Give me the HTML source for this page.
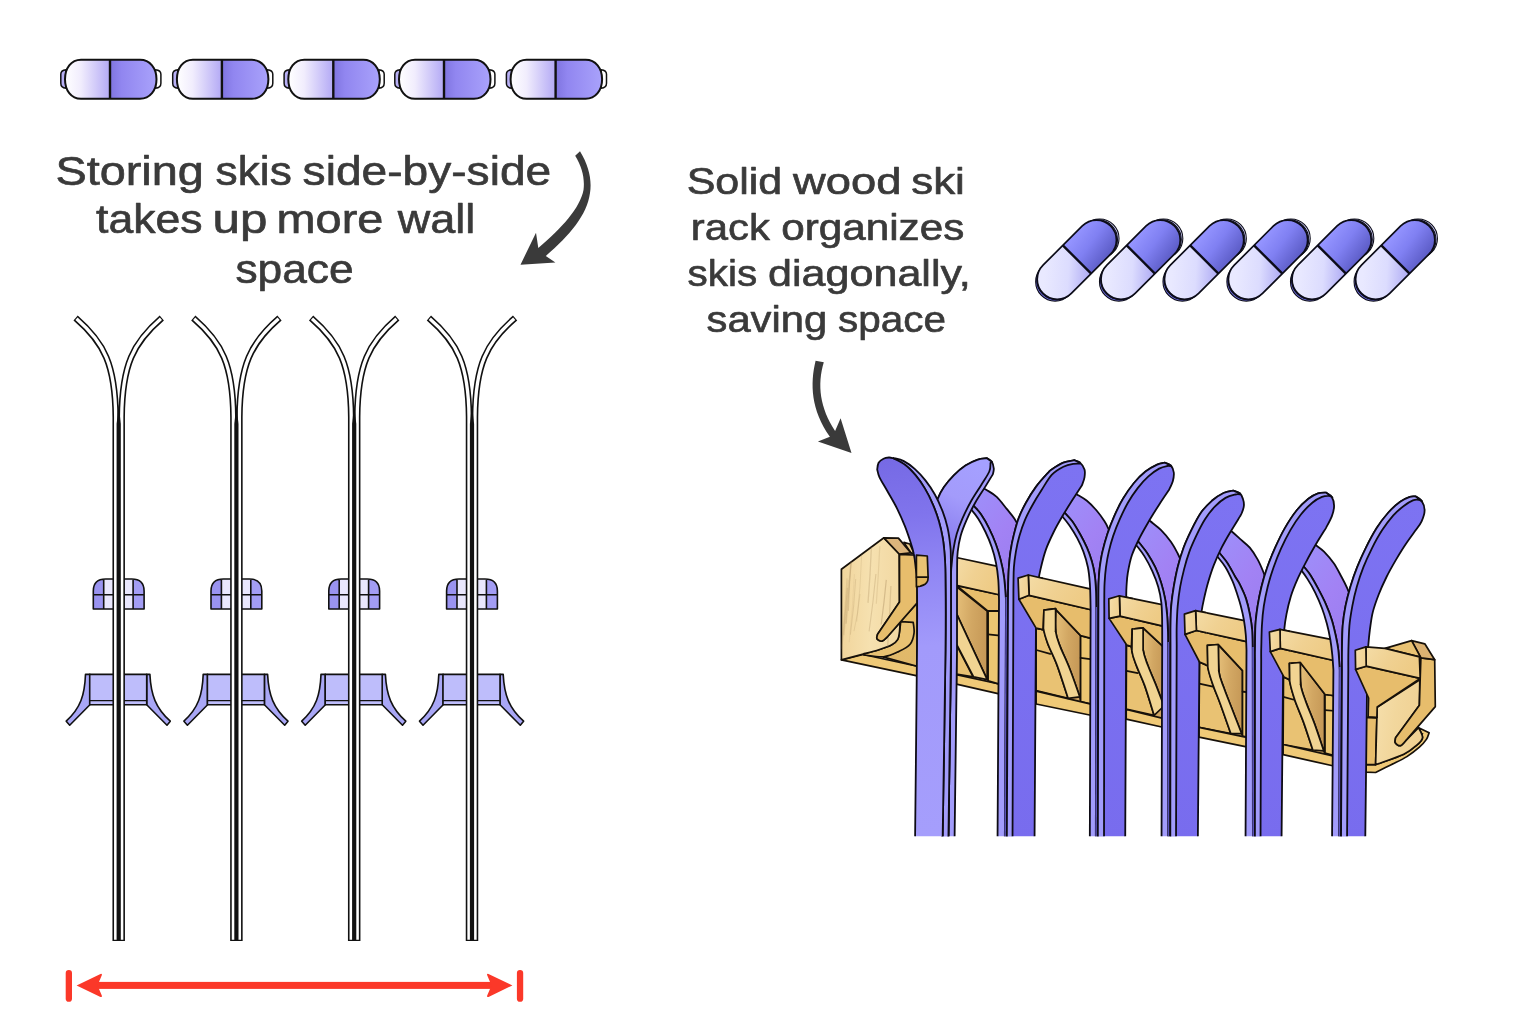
<!DOCTYPE html>
<html lang="en">
<head>
<meta charset="utf-8">
<title>Ski rack storage comparison</title>
<style>
html,body{margin:0;padding:0;background:#fff;}
body{width:1536px;height:1024px;overflow:hidden;position:relative;font-family:"Liberation Sans",sans-serif;}
svg{position:absolute;left:0;top:0;display:block;}
text{font-family:"Liberation Sans",sans-serif;fill:#3a3a3a;stroke:#3a3a3a;stroke-width:0.65px;stroke-linejoin:round;}
#txtL,#txtR{filter:url(#gray);}
</style>
</head>
<body>
<svg width="1536" height="1024" viewBox="0 0 1536 1024">
<defs>
  <filter id="gray" x="-5%" y="-20%" width="110%" height="140%" color-interpolation-filters="sRGB"><feColorMatrix type="saturate" values="1"/></filter>
  <linearGradient id="capL" x1="0" x2="1" y1="0" y2="0">
    <stop offset="0" stop-color="#ffffff"/>
    <stop offset="0.35" stop-color="#f1edfd"/>
    <stop offset="1" stop-color="#b3a9f5"/>
  </linearGradient>
  <linearGradient id="capR" x1="0" x2="1" y1="0" y2="0">
    <stop offset="0" stop-color="#7f74e0"/>
    <stop offset="0.25" stop-color="#9186f0"/>
    <stop offset="1" stop-color="#a9a2fb"/>
  </linearGradient>
  <g id="capsule">
    <!-- end tabs -->
    <path d="M6 10.5 Q0.8 11 0.8 15 V24 Q0.8 28.5 6 29 Z" fill="#b8b0f5" stroke="#111" stroke-width="1.5" stroke-linejoin="round"/>
    <path d="M95.5 10.5 Q100.9 11 100.9 15 V24 Q100.9 28.5 95.5 29 Z" fill="#fff" stroke="#111" stroke-width="1.5" stroke-linejoin="round"/>
    <!-- body halves -->
    <path d="M50 0.5 H21 C11 0.5 5 9 5 20 C5 31 11 39.5 21 39.5 H50 Z" fill="url(#capL)"/>
    <path d="M50 0.5 H80 C90 0.5 96.5 9 96.5 20 C96.5 31 90 39.5 80 39.5 H50 Z" fill="url(#capR)"/>
    <path d="M21 0.5 H80 C90 0.5 96.5 9 96.5 20 C96.5 31 90 39.5 80 39.5 H21 C11 39.5 5 31 5 20 C5 9 11 0.5 21 0.5 Z" fill="none" stroke="#111" stroke-width="2"/>
    <path d="M50 0.5 V39.5" stroke="#111" stroke-width="2.4"/>
  </g>
  <g id="skipair">
    <path d="M-3 941 V417 C-3.4 364.9 -14.5 342.7 -43.1 318" fill="none" stroke="#111" stroke-width="6.5"/>
    <path d="M-3 939.8 V417 C-3.4 364.9 -14.5 342.7 -42.2 318.8" fill="none" stroke="#fff" stroke-width="3.3"/>
    <path d="M3 941 V417 C3.4 364.9 14.5 342.7 43.1 318" fill="none" stroke="#111" stroke-width="6.5"/>
    <path d="M3 939.8 V417 C3.4 364.9 14.5 342.7 42.2 318.8" fill="none" stroke="#fff" stroke-width="3.3"/>
    <path d="M-2.1 941 V424 L0 404 L2.1 424 V941 Z" fill="#111"/>
  </g>
  <g id="bindings">
    <!-- toe piece -->
    <path d="M-25.4 609 V591 Q-25.4 579 -13 579 H13 Q25.4 579 25.4 591 V609 Z" fill="#e9e7fd"/>
    <path d="M-25.4 609 V591 Q-25.4 579 -13 579 H-15 V609 Z" fill="#9a93f0"/>
    <path d="M25.4 609 V591 Q25.4 579 13 579 H14.4 V609 Z" fill="#a39df4"/>
    <path d="M-25.4 609 V591 Q-25.4 579 -13 579 H13 Q25.4 579 25.4 591 V609 Z M-25.4 594.7 H25.4 M-15 579 V609 M14.4 579 V609" fill="none" stroke="#111" stroke-width="1.6" stroke-linejoin="round"/>
    <!-- heel piece wings -->
    <path d="M-33.2 674.4 H-28.8 V704.8 L-49 725.2 L-52.5 721.2 C-38 708 -34 695 -33.2 674.4 Z" fill="#a9a7f6" stroke="#111" stroke-width="1.6" stroke-linejoin="round"/>
    <path d="M31.2 674.4 H28 V704.8 L48.3 725.2 L51.6 721.2 C37 708 32.2 695 31.2 674.4 Z" fill="#a9a7f6" stroke="#111" stroke-width="1.6" stroke-linejoin="round"/>
    <path d="M-29 674.4 H28 V704.8 H-29 Z" fill="#bebdfb" stroke="#111" stroke-width="1.6" stroke-linejoin="round"/>
    <path d="M-29 700.6 H28" stroke="#111" stroke-width="1.4"/>
  </g>
</defs>

<!-- top-left capsules (side by side) -->
<use href="#capsule" x="60" y="59.3"/>
<use href="#capsule" x="171.9" y="59.3"/>
<use href="#capsule" x="283.3" y="59.3"/>
<use href="#capsule" x="394" y="59.3"/>
<use href="#capsule" x="505.6" y="59.3"/>

<!-- left text -->
<g font-size="40" id="txtL">
  <text y="185.2"><tspan x="55.4" textLength="148.4" lengthAdjust="spacingAndGlyphs">Storing</tspan> <tspan x="215.6" textLength="76.2" lengthAdjust="spacingAndGlyphs">skis</tspan> <tspan x="302.6" textLength="248.6" lengthAdjust="spacingAndGlyphs">side-by-side</tspan></text>
  <text y="233.2"><tspan x="96.0" textLength="106.5" lengthAdjust="spacingAndGlyphs">takes</tspan> <tspan x="212.5" textLength="54.8" lengthAdjust="spacingAndGlyphs">up</tspan> <tspan x="276.6" textLength="106.7" lengthAdjust="spacingAndGlyphs">more</tspan> <tspan x="397.7" textLength="77.5" lengthAdjust="spacingAndGlyphs">wall</tspan></text>
  <text y="282.7"><tspan x="235.4" textLength="118.2" lengthAdjust="spacingAndGlyphs">space</tspan></text>
</g>
<g font-size="37" id="txtR">
  <text y="194.2"><tspan x="686.7" textLength="95.6" lengthAdjust="spacingAndGlyphs">Solid</tspan> <tspan x="793.1" textLength="108.3" lengthAdjust="spacingAndGlyphs">wood</tspan> <tspan x="911.2" textLength="53.7" lengthAdjust="spacingAndGlyphs">ski</tspan></text>
  <text y="240.0"><tspan x="690.8" textLength="79.1" lengthAdjust="spacingAndGlyphs">rack</tspan> <tspan x="781.3" textLength="183.0" lengthAdjust="spacingAndGlyphs">organizes</tspan></text>
  <text y="285.6"><tspan x="687.6" textLength="69.7" lengthAdjust="spacingAndGlyphs">skis</tspan> <tspan x="768.1" textLength="202.7" lengthAdjust="spacingAndGlyphs">diagonally,</tspan></text>
  <text y="332.0"><tspan x="706.5" textLength="120.7" lengthAdjust="spacingAndGlyphs">saving</tspan> <tspan x="838.0" textLength="107.9" lengthAdjust="spacingAndGlyphs">space</tspan></text>
</g>

<!-- left arrow -->
<g id="arrowL">
  <path d="M580 151.2 C589 166 592 180 590 193 C587 215 570 235 545.8 256 L555.4 262.6 L520.5 264.7 L536 232.7 L538.3 248 C562 228 580 208 583.5 190 C585 178 582 167 575.2 155.7 Z" fill="#3a3a3a"/>
</g>
<!-- right arrow -->
<g id="arrowR">
  <path d="M815.6 360.8 C810 384 811 410 829.9 436.8 L817.9 441.4 L851.5 452.9 L840.6 418.2 L835.1 430.9 C820 408 817 385 823.8 362.3 Z" fill="#3a3a3a"/>
</g>

<!-- left skis -->
<g id="skisL">
  <g transform="translate(118.7 0)"><use href="#bindings"/><use href="#skipair"/></g>
  <g transform="translate(236.4 0)"><use href="#bindings"/><use href="#skipair"/></g>
  <g transform="translate(354.2 0)"><use href="#bindings"/><use href="#skipair"/></g>
  <g transform="translate(472 0)"><use href="#bindings"/><use href="#skipair"/></g>
</g>

<!-- red dimension arrow -->
<g id="dim" fill="#fb3829" stroke="none">
  <rect x="65.7" y="970" width="6.3" height="31.8" rx="3.1"/>
  <rect x="516.9" y="970" width="6.3" height="31.8" rx="3.1"/>
  <rect x="92" y="981.9" width="405" height="7"/>
  <path d="M76.6 985.4 L100.5 973.9 Q102.5 973.3 101.8 975.3 L97.5 985.4 L101.8 995.5 Q102.5 997.5 100.5 996.9 Z"/>
  <path d="M512.4 985.4 L488.5 973.9 Q486.5 973.3 487.2 975.3 L491.5 985.4 L487.2 995.5 Q486.5 997.5 488.5 996.9 Z"/>
</g>

<defs><linearGradient id="gBack" x1="0" y1="0" x2="0.6" y2="1"><stop offset="0" stop-color="#9c92fb"/><stop offset="0.6" stop-color="#a282f4"/><stop offset="1" stop-color="#9a7ef0"/></linearGradient>
<linearGradient id="gFront" x1="0" y1="0" x2="0" y2="1"><stop offset="0" stop-color="#7d73f2"/><stop offset="1" stop-color="#786cee"/></linearGradient>
<linearGradient id="gP1L" gradientUnits="userSpaceOnUse" x1="890" y1="460" x2="930" y2="836"><stop offset="0" stop-color="#766ae5"/><stop offset="0.15" stop-color="#8074ec"/><stop offset="0.3" stop-color="#9086f4"/><stop offset="0.5" stop-color="#a29afb"/><stop offset="1" stop-color="#a59efc"/></linearGradient>
<linearGradient id="gP1R" gradientUnits="userSpaceOnUse" x1="985" y1="465" x2="950" y2="540"><stop offset="0" stop-color="#a5a0ff"/><stop offset="0.5" stop-color="#a39bfb"/><stop offset="1" stop-color="#8a7ff0"/></linearGradient>
<clipPath id="skiclip"><rect x="800" y="400" width="700" height="436.3"/></clipPath>
<linearGradient id="wInt" x1="0" y1="0" x2="0" y2="1"><stop offset="0" stop-color="#e6bd68"/><stop offset="1" stop-color="#e0b86a"/></linearGradient>
<linearGradient id="wLight" x1="0" y1="0" x2="1" y2="0.3"><stop offset="0" stop-color="#f6e0ae"/><stop offset="0.5" stop-color="#f2d79d"/><stop offset="1" stop-color="#f0d193"/></linearGradient>
<linearGradient id="wTop" x1="0" y1="0" x2="1" y2="0.4"><stop offset="0" stop-color="#f4dca6"/><stop offset="0.5" stop-color="#f0d192"/><stop offset="1" stop-color="#eecb85"/></linearGradient>
<linearGradient id="wRec" x1="0" y1="0" x2="1" y2="0.2"><stop offset="0" stop-color="#e6c07a"/><stop offset="0.55" stop-color="#d2a763"/><stop offset="1" stop-color="#c79a58"/></linearGradient>
<linearGradient id="wEnd" gradientUnits="userSpaceOnUse" x1="841" y1="600" x2="900" y2="600"><stop offset="0" stop-color="#f1d59c"/><stop offset="0.5" stop-color="#f6e1b0"/><stop offset="1" stop-color="#f2d8a2"/></linearGradient>
<clipPath id="efclip"><path d="M841.4 569.3L883.9 537.8L899.2 554L899.5 602.1L877.6 634.2L877.6 634.2C877.5 634.9 876.3 637.7 877 638.8C877.7 640 880.3 641.4 882 641.2C883.7 640.9 886.2 637.9 887 637.3L887 637.3L900.1 622.1L900.1 622.1C900 623.7 899.9 628.9 899.5 631.8C899.1 634.7 899 637.4 897.6 639.6C896.3 641.8 894.5 643.4 891.4 645.1C888.2 646.8 883.6 648.3 878.9 649.8C874.2 651.3 865.9 653.3 863.2 654L841.4 659.9Z"/></clipPath>
<clipPath id="fc2"><rect x="1015.1" y="560" width="28" height="140"/></clipPath>
<clipPath id="fc3"><rect x="1105.8" y="560" width="27.7" height="140"/></clipPath>
<clipPath id="fc4"><rect x="1181.4" y="560" width="25" height="140"/></clipPath>
<clipPath id="fc5"><rect x="1266.4" y="560" width="23.8" height="140"/></clipPath>
<linearGradient id="dcL" gradientUnits="userSpaceOnUse" x1="-32" y1="-14" x2="0" y2="22"><stop offset="0" stop-color="#e9e9ff"/><stop offset="0.5" stop-color="#dcdcfe"/><stop offset="1" stop-color="#aaa6f3"/></linearGradient>
<linearGradient id="dcR" gradientUnits="userSpaceOnUse" x1="20" y1="-20" x2="26" y2="20"><stop offset="0" stop-color="#9494ff"/><stop offset="0.45" stop-color="#8080f2"/><stop offset="1" stop-color="#5c5cc6"/></linearGradient></defs>
<g id="capsR"><g transform="translate(1077 259.5) rotate(-45)"><circle cx="-27" cy="0" r="19.4" fill="#6d6de2" stroke="#0c0c18" stroke-width="1.1" transform="translate(-4.2 0.2)"/><circle cx="-27" cy="0" r="19.6" fill="#8d8df0" stroke="#0c0c18" stroke-width="1" transform="translate(-2.1 0.1)"/><circle cx="27" cy="0" r="19.4" fill="#d4d4ff" stroke="#0c0c18" stroke-width="1.1" transform="translate(3.9 1.1)"/><circle cx="27" cy="0" r="19.6" fill="#a9a9fa" stroke="#0c0c18" stroke-width="1" transform="translate(2 0.6)"/><path d="M0 -20 H-27.5 A20 20 0 0 0 -27.5 20 H0 Z" fill="url(#dcL)"/><path d="M0 -20 H27.5 A20 20 0 0 1 27.5 20 H0 Z" fill="url(#dcR)"/><path d="M-28 -20 H27.5 A20 20 0 0 1 27.5 20 H-28 A20 20 0 0 1 -28 -20 Z" fill="none" stroke="#0c0c18" stroke-width="1.7"/><path d="M0 -20 V20" stroke="#0c0c18" stroke-width="2.4"/></g>
<g transform="translate(1140.8 259.5) rotate(-45)"><circle cx="-27" cy="0" r="19.4" fill="#6d6de2" stroke="#0c0c18" stroke-width="1.1" transform="translate(-4.2 0.2)"/><circle cx="-27" cy="0" r="19.6" fill="#8d8df0" stroke="#0c0c18" stroke-width="1" transform="translate(-2.1 0.1)"/><circle cx="27" cy="0" r="19.4" fill="#d4d4ff" stroke="#0c0c18" stroke-width="1.1" transform="translate(3.9 1.1)"/><circle cx="27" cy="0" r="19.6" fill="#a9a9fa" stroke="#0c0c18" stroke-width="1" transform="translate(2 0.6)"/><path d="M0 -20 H-27.5 A20 20 0 0 0 -27.5 20 H0 Z" fill="url(#dcL)"/><path d="M0 -20 H27.5 A20 20 0 0 1 27.5 20 H0 Z" fill="url(#dcR)"/><path d="M-28 -20 H27.5 A20 20 0 0 1 27.5 20 H-28 A20 20 0 0 1 -28 -20 Z" fill="none" stroke="#0c0c18" stroke-width="1.7"/><path d="M0 -20 V20" stroke="#0c0c18" stroke-width="2.4"/></g>
<g transform="translate(1204.3 259.5) rotate(-45)"><circle cx="-27" cy="0" r="19.4" fill="#6d6de2" stroke="#0c0c18" stroke-width="1.1" transform="translate(-4.2 0.2)"/><circle cx="-27" cy="0" r="19.6" fill="#8d8df0" stroke="#0c0c18" stroke-width="1" transform="translate(-2.1 0.1)"/><circle cx="27" cy="0" r="19.4" fill="#d4d4ff" stroke="#0c0c18" stroke-width="1.1" transform="translate(3.9 1.1)"/><circle cx="27" cy="0" r="19.6" fill="#a9a9fa" stroke="#0c0c18" stroke-width="1" transform="translate(2 0.6)"/><path d="M0 -20 H-27.5 A20 20 0 0 0 -27.5 20 H0 Z" fill="url(#dcL)"/><path d="M0 -20 H27.5 A20 20 0 0 1 27.5 20 H0 Z" fill="url(#dcR)"/><path d="M-28 -20 H27.5 A20 20 0 0 1 27.5 20 H-28 A20 20 0 0 1 -28 -20 Z" fill="none" stroke="#0c0c18" stroke-width="1.7"/><path d="M0 -20 V20" stroke="#0c0c18" stroke-width="2.4"/></g>
<g transform="translate(1268.2 259.5) rotate(-45)"><circle cx="-27" cy="0" r="19.4" fill="#6d6de2" stroke="#0c0c18" stroke-width="1.1" transform="translate(-4.2 0.2)"/><circle cx="-27" cy="0" r="19.6" fill="#8d8df0" stroke="#0c0c18" stroke-width="1" transform="translate(-2.1 0.1)"/><circle cx="27" cy="0" r="19.4" fill="#d4d4ff" stroke="#0c0c18" stroke-width="1.1" transform="translate(3.9 1.1)"/><circle cx="27" cy="0" r="19.6" fill="#a9a9fa" stroke="#0c0c18" stroke-width="1" transform="translate(2 0.6)"/><path d="M0 -20 H-27.5 A20 20 0 0 0 -27.5 20 H0 Z" fill="url(#dcL)"/><path d="M0 -20 H27.5 A20 20 0 0 1 27.5 20 H0 Z" fill="url(#dcR)"/><path d="M-28 -20 H27.5 A20 20 0 0 1 27.5 20 H-28 A20 20 0 0 1 -28 -20 Z" fill="none" stroke="#0c0c18" stroke-width="1.7"/><path d="M0 -20 V20" stroke="#0c0c18" stroke-width="2.4"/></g>
<g transform="translate(1331.8 259.5) rotate(-45)"><circle cx="-27" cy="0" r="19.4" fill="#6d6de2" stroke="#0c0c18" stroke-width="1.1" transform="translate(-4.2 0.2)"/><circle cx="-27" cy="0" r="19.6" fill="#8d8df0" stroke="#0c0c18" stroke-width="1" transform="translate(-2.1 0.1)"/><circle cx="27" cy="0" r="19.4" fill="#d4d4ff" stroke="#0c0c18" stroke-width="1.1" transform="translate(3.9 1.1)"/><circle cx="27" cy="0" r="19.6" fill="#a9a9fa" stroke="#0c0c18" stroke-width="1" transform="translate(2 0.6)"/><path d="M0 -20 H-27.5 A20 20 0 0 0 -27.5 20 H0 Z" fill="url(#dcL)"/><path d="M0 -20 H27.5 A20 20 0 0 1 27.5 20 H0 Z" fill="url(#dcR)"/><path d="M-28 -20 H27.5 A20 20 0 0 1 27.5 20 H-28 A20 20 0 0 1 -28 -20 Z" fill="none" stroke="#0c0c18" stroke-width="1.7"/><path d="M0 -20 V20" stroke="#0c0c18" stroke-width="2.4"/></g>
<g transform="translate(1395.4 259.5) rotate(-45)"><circle cx="-27" cy="0" r="19.4" fill="#6d6de2" stroke="#0c0c18" stroke-width="1.1" transform="translate(-4.2 0.2)"/><circle cx="-27" cy="0" r="19.6" fill="#8d8df0" stroke="#0c0c18" stroke-width="1" transform="translate(-2.1 0.1)"/><circle cx="27" cy="0" r="19.4" fill="#d4d4ff" stroke="#0c0c18" stroke-width="1.1" transform="translate(3.9 1.1)"/><circle cx="27" cy="0" r="19.6" fill="#a9a9fa" stroke="#0c0c18" stroke-width="1" transform="translate(2 0.6)"/><path d="M0 -20 H-27.5 A20 20 0 0 0 -27.5 20 H0 Z" fill="url(#dcL)"/><path d="M0 -20 H27.5 A20 20 0 0 1 27.5 20 H0 Z" fill="url(#dcR)"/><path d="M-28 -20 H27.5 A20 20 0 0 1 27.5 20 H-28 A20 20 0 0 1 -28 -20 Z" fill="none" stroke="#0c0c18" stroke-width="1.7"/><path d="M0 -20 V20" stroke="#0c0c18" stroke-width="2.4"/></g></g>
<g id="rackBack"><path d="M841.4 659.9L863.2 654.5L917.2 666.2L917.2 675.9Z" fill="#efc977" stroke="#17110a" stroke-width="1.7" stroke-linejoin="round" stroke-linecap="round"/>
<path d="M900.8 620.9L917.2 602.9L917.2 666.2L883.6 657.1L899.2 651.3Z" fill="url(#wInt)" stroke="#17110a" stroke-width="1.7" stroke-linejoin="round" stroke-linecap="round"/>
<path d="M900.8 621.7L913.2 622.4L913.2 622.4C913.4 624.3 914.6 629.7 914 633.4C913.5 637 912.6 641.3 910.1 644.3C907.7 647.3 903.6 649.3 899.2 651.3C894.8 653.4 889.4 656.2 883.6 656.8C877.7 657.4 867.3 655.2 864 654.9L863.2 654C865.9 653.3 874.2 651.3 878.9 649.8C883.6 648.3 888.2 646.8 891.4 645.1C894.5 643.4 896.3 641.8 897.6 639.6C899 637.4 899 634.8 899.5 631.8C900 628.8 900.5 623.3 900.8 621.7Z" fill="#e9c273" stroke="#17110a" stroke-width="1.7" stroke-linejoin="round" stroke-linecap="round"/>
<path d="M841.4 569.3L883.9 537.8L899.2 554L899.5 602.1L877.6 634.2L877.6 634.2C877.5 634.9 876.3 637.7 877 638.8C877.7 640 880.3 641.4 882 641.2C883.7 640.9 886.2 637.9 887 637.3L887 637.3L900.1 622.1L900.1 622.1C900 623.7 899.9 628.9 899.5 631.8C899.1 634.7 899 637.4 897.6 639.6C896.3 641.8 894.5 643.4 891.4 645.1C888.2 646.8 883.6 648.3 878.9 649.8C874.2 651.3 865.9 653.3 863.2 654L841.4 659.9Z" fill="url(#wEnd)" stroke="#17110a" stroke-width="1.7" stroke-linejoin="round" stroke-linecap="round"/>
<g clip-path="url(#efclip)"><path d="M861.8 552.5 q-1.1 34.5 -5.1 69.1" fill="none" stroke="#a88a5c" stroke-opacity="0.3" stroke-width="0.6"/><path d="M871.4 546.9 q-1.1 28 -3.4 56" fill="none" stroke="#a88a5c" stroke-opacity="0.3" stroke-width="1.3"/><path d="M851.4 556.2 q-2.9 33.8 -5.3 67.6" fill="none" stroke="#a88a5c" stroke-opacity="0.3" stroke-width="1.4"/><path d="M847.4 587.9 q-1.3 23.7 -3.5 47.4" fill="none" stroke="#a88a5c" stroke-opacity="0.2" stroke-width="1.3"/><path d="M854.4 574.1 q-1.7 34.2 -5.2 68.3" fill="none" stroke="#a88a5c" stroke-opacity="0.2" stroke-width="0.6"/><path d="M855.7 579 q-1.6 27.8 -5.3 55.7" fill="none" stroke="#a88a5c" stroke-opacity="0.3" stroke-width="0.8"/><path d="M886.3 579.9 q-2.1 22.3 -5.1 44.6" fill="none" stroke="#a88a5c" stroke-opacity="0.4" stroke-width="1.2"/><path d="M860 594 q-1.8 18.5 -6 37.1" fill="none" stroke="#a88a5c" stroke-opacity="0.2" stroke-width="1"/><path d="M847 578.4 q-2.1 37.9 -6.5 75.9" fill="none" stroke="#a88a5c" stroke-opacity="0.2" stroke-width="1.2"/><path d="M875.9 574 q-2.7 28.7 -6.8 57.4" fill="none" stroke="#a88a5c" stroke-opacity="0.3" stroke-width="1.1"/><path d="M848.2 580.1 q-3 34.4 -6.3 68.8" fill="none" stroke="#a88a5c" stroke-opacity="0.2" stroke-width="0.9"/><path d="M879.8 546.1 q-1.3 28.9 -3.5 57.7" fill="none" stroke="#a88a5c" stroke-opacity="0.2" stroke-width="1.2"/><path d="M851.7 557.4 q-2.7 26.7 -3.3 53.5" fill="none" stroke="#a88a5c" stroke-opacity="0.3" stroke-width="1"/><path d="M890.9 586 q-1.6 40.9 -4.7 81.8" fill="none" stroke="#a88a5c" stroke-opacity="0.3" stroke-width="1.3"/></g>
<path d="M903.9 542.4L909.8 544L914.5 554L910.9 552.9Z" fill="#ecca8c" stroke="#17110a" stroke-width="1.7" stroke-linejoin="round" stroke-linecap="round"/>
<path d="M883.9 537.8L898.4 538.1L910.9 552.9L899.2 554Z" fill="#dcb57c" stroke="#17110a" stroke-width="1.7" stroke-linejoin="round" stroke-linecap="round"/>
<path d="M899.5 554.5L917.2 555.2L917.2 602.9L887 637.3L887 637.3C886.2 637.9 883.7 640.9 882 641.2C880.3 641.4 877.7 640 877 638.8C876.3 637.7 877.5 634.9 877.6 634.2L899.5 602.1Z" fill="#e7bd6c" stroke="#17110a" stroke-width="1.7" stroke-linejoin="round" stroke-linecap="round"/>
<path d="M956.4 674.7L1000.2 684.1L1000.2 694.1L956.4 684.1Z" fill="#efc977" stroke="#17110a" stroke-width="1.7" stroke-linejoin="round" stroke-linecap="round"/>
<path d="M956.4 644.5L973.1 676.9L956.4 674.2Z" fill="#e9c273" stroke="#17110a" stroke-width="1.7" stroke-linejoin="round" stroke-linecap="round"/>
<path d="M956.4 586.7L987.2 611.2L987.2 679.7L956.4 613.3Z" fill="url(#wRec)" stroke="#17110a" stroke-width="1.7" stroke-linejoin="round" stroke-linecap="round"/>
<path d="M956.4 613.3L987.2 679.7L973.6 676.9L956.4 643.8Z" fill="#f1d492" stroke="#17110a" stroke-width="1.7" stroke-linejoin="round" stroke-linecap="round"/>
<path d="M988.1 611.2L1000.2 611.2L1000.2 684.4L988.1 680.9Z" fill="#ecc672" stroke="#17110a" stroke-width="1.7" stroke-linejoin="round" stroke-linecap="round"/>
<path d="M988.1 634.4L1000.2 635.6" fill="none" stroke="#17110a" stroke-width="1.7" stroke-linejoin="round" stroke-linecap="round"/>
<path d="M956.4 585.3L1000.2 595L1000.2 610.9L987.7 610.9Z" fill="#e7bd6c" stroke="#17110a" stroke-width="1.7" stroke-linejoin="round" stroke-linecap="round"/>
<path d="M956.4 557.5L997.8 566.4L1000.2 566.9L1000.2 595L956.4 585.3Z" fill="url(#wTop)" stroke="#17110a" stroke-width="1.7" stroke-linejoin="round" stroke-linecap="round"/>
<g id="fing2"><path d="M1036.1 628.1L1092 631.6L1092 704.4L1036.1 691.2Z" fill="#cfa460" stroke="none" stroke-width="1.7" stroke-linejoin="round" stroke-linecap="round"/>
<path d="M1036.1 628.1L1043.1 629.7L1043.4 628.1C1044.1 630.7 1045.5 637.5 1047.8 643.8C1050.1 650 1053.8 656.5 1057.2 665.6C1060.6 674.7 1066.3 692.9 1068.1 698.4L1036.1 690.6Z" fill="#e9c273" stroke="#17110a" stroke-width="1.7" stroke-linejoin="round" stroke-linecap="round"/>
<path d="M1036.3 650L1050.2 653.9" fill="none" stroke="#17110a" stroke-width="1.7" stroke-linejoin="round" stroke-linecap="round"/>
<path d="M1056.4 610.2L1080.6 635.6L1080.6 700.5L1079.8 696.9C1078.1 692.2 1073 677.1 1069.7 668.8C1066.5 660.4 1062.7 653.1 1060.3 646.9C1057.9 640.6 1056.4 637.6 1055.6 631.2C1054.8 624.9 1055.6 612.4 1055.6 608.6Z" fill="url(#wRec)" stroke="#17110a" stroke-width="1.7" stroke-linejoin="round" stroke-linecap="round"/>
<path d="M1080.6 635.6L1092 638.6L1092 704.4L1080.6 701.6Z" fill="#ecc672" stroke="#17110a" stroke-width="1.7" stroke-linejoin="round" stroke-linecap="round"/>
<path d="M1080.6 657.8L1092 659.3" fill="none" stroke="#17110a" stroke-width="1.7" stroke-linejoin="round" stroke-linecap="round"/>
<path d="M1036.1 691.2L1092 704.4L1092 715.5L1036.1 704Z" fill="#efc977" stroke="#17110a" stroke-width="1.7" stroke-linejoin="round" stroke-linecap="round"/>
<path d="M1043.9 610.2C1043.8 613.2 1042.8 622.5 1043.4 628.1C1044.1 633.7 1045.5 637.5 1047.8 643.8C1050.1 650 1053.8 656.5 1057.2 665.6C1060.6 674.7 1066.3 692.9 1068.1 698.4L1079.8 696.9L1079.8 696.9C1078.1 692.2 1073 677.1 1069.7 668.8C1066.5 660.4 1062.7 653.1 1060.3 646.9C1057.9 640.6 1056.4 637.6 1055.6 631.2C1054.8 624.9 1055.6 612.4 1055.6 608.6Z" fill="#f1d492" stroke="#17110a" stroke-width="1.7" stroke-linejoin="round" stroke-linecap="round"/>
<path d="M1018.9 599.2L1029.1 595.3L1092 610L1092 638.6L1080.6 635.6L1056.4 610.2L1055.6 608.6L1043.9 610.2L1043.1 629.7L1036.1 628.1Z" fill="#e7bd6c" stroke="#17110a" stroke-width="1.7" stroke-linejoin="round" stroke-linecap="round"/>
<path d="M1043.4 628.1L1043.9 610.2L1055.6 608.6L1055.6 608.6L1055.6 631.2" fill="#f1d492" stroke="#17110a" stroke-width="1.7" stroke-linejoin="round" stroke-linecap="round"/>
<path d="M1028.3 575L1087.7 588.3L1092 589.3L1092 610L1029.1 595.3Z" fill="url(#wTop)" stroke="#17110a" stroke-width="1.7" stroke-linejoin="round" stroke-linecap="round"/>
<path d="M1018.1 578.1L1028.3 575L1029.1 595.3L1018.9 599.2Z" fill="url(#wLight)" stroke="#17110a" stroke-width="1.7" stroke-linejoin="round" stroke-linecap="round"/></g>
<g id="fing3"><path d="M1126.5 645.3L1164 643.3L1164 718.6L1126.2 709.5Z" fill="#cfa460" stroke="none" stroke-width="1.7" stroke-linejoin="round" stroke-linecap="round"/>
<path d="M1126.5 645.3L1131.4 646.6L1131.9 651.2C1132.7 653.9 1134.8 661.2 1136.9 666.9C1139 672.6 1141.8 677.5 1144.7 685.6C1147.6 693.7 1152.5 710.3 1154.1 715.3L1126.2 709Z" fill="#e9c273" stroke="#17110a" stroke-width="1.7" stroke-linejoin="round" stroke-linecap="round"/>
<path d="M1126.5 670.8L1137.7 673.1" fill="none" stroke="#17110a" stroke-width="1.7" stroke-linejoin="round" stroke-linecap="round"/>
<path d="M1143.1 628.1L1164 647.3L1164 706L1164 706C1162.6 702.4 1158.3 690.9 1155.6 684.1C1152.9 677.3 1149.9 671 1147.8 665.3C1145.7 659.6 1143.9 656 1143.1 649.7C1142.3 643.5 1143.1 631.4 1143.1 627.8Z" fill="url(#wRec)" stroke="#17110a" stroke-width="1.7" stroke-linejoin="round" stroke-linecap="round"/>
<path d="M1126.2 709.5L1164 718.6L1164 727.5L1126.2 719.2Z" fill="#efc977" stroke="#17110a" stroke-width="1.7" stroke-linejoin="round" stroke-linecap="round"/>
<path d="M1132.2 629.1C1132.2 632.8 1131.1 645 1131.9 651.2C1132.7 657.5 1134.8 661.2 1136.9 666.9C1139 672.6 1141.8 677.5 1144.7 685.6C1147.6 693.7 1152.5 710.3 1154.1 715.3L1164 706L1164 706C1162.6 702.4 1158.3 690.9 1155.6 684.1C1152.9 677.3 1149.9 671 1147.8 665.3C1145.7 659.6 1143.9 656 1143.1 649.7C1142.3 643.5 1143.1 631.4 1143.1 627.8Z" fill="#f1d492" stroke="#17110a" stroke-width="1.7" stroke-linejoin="round" stroke-linecap="round"/>
<path d="M1109.1 618.4L1120 616.1L1164 626.3L1164 647.3L1143.1 627.8L1132.2 629.1L1131.4 646.6L1126.7 645Z" fill="#e7bd6c" stroke="#17110a" stroke-width="1.7" stroke-linejoin="round" stroke-linecap="round"/>
<path d="M1131.9 651.2L1132.2 629.1L1143.1 627.8L1143.1 627.8L1143.1 649.7" fill="#f1d492" stroke="#17110a" stroke-width="1.7" stroke-linejoin="round" stroke-linecap="round"/>
<path d="M1119.4 595.8L1157.2 603.6L1164 605L1164 626.3L1120 616.1Z" fill="url(#wTop)" stroke="#17110a" stroke-width="1.7" stroke-linejoin="round" stroke-linecap="round"/>
<path d="M1108.8 598.9L1119.4 595.8L1120 616.1L1109.1 618.4Z" fill="url(#wLight)" stroke="#17110a" stroke-width="1.7" stroke-linejoin="round" stroke-linecap="round"/></g>
<g id="fing4"><path d="M1199.5 662L1249 666.6L1249 737.9L1199 727.3Z" fill="#cfa460" stroke="none" stroke-width="1.7" stroke-linejoin="round" stroke-linecap="round"/>
<path d="M1199.5 662L1207.8 665.6L1207.8 667.2C1208.6 670.1 1210.7 678.1 1212.8 684.4C1214.9 690.6 1217.6 696.5 1220.6 704.7C1223.6 712.9 1229.1 728.8 1230.8 733.6L1199 727.3Z" fill="#e9c273" stroke="#17110a" stroke-width="1.7" stroke-linejoin="round" stroke-linecap="round"/>
<path d="M1199.3 683.6L1212.8 686.7" fill="none" stroke="#17110a" stroke-width="1.7" stroke-linejoin="round" stroke-linecap="round"/>
<path d="M1218.8 645.3L1242.5 670.6L1242.5 735.5L1241.7 733.6C1240 729.3 1234.6 715.5 1231.6 707.8C1228.6 700.1 1225.9 693.6 1223.8 687.5C1221.6 681.4 1219.7 678.3 1218.8 671.1C1217.8 663.9 1218.4 648.9 1218.3 644.5Z" fill="url(#wRec)" stroke="#17110a" stroke-width="1.7" stroke-linejoin="round" stroke-linecap="round"/>
<path d="M1242.5 691.4L1249 692.5L1249 737.6L1242.5 736Z" fill="#ecc672" stroke="#17110a" stroke-width="1.7" stroke-linejoin="round" stroke-linecap="round"/>
<path d="M1199 727.3L1249 737.9L1249 747.3L1199 737.2Z" fill="#efc977" stroke="#17110a" stroke-width="1.7" stroke-linejoin="round" stroke-linecap="round"/>
<path d="M1207.3 645.3C1207.4 648.9 1206.9 660.7 1207.8 667.2C1208.7 673.7 1210.7 678.1 1212.8 684.4C1214.9 690.6 1217.6 696.5 1220.6 704.7C1223.6 712.9 1229.1 728.8 1230.8 733.6L1241.7 733.6L1241.7 733.6C1240 729.3 1234.6 715.5 1231.6 707.8C1228.6 700.1 1225.9 693.6 1223.8 687.5C1221.6 681.4 1219.7 678.3 1218.8 671.1C1217.8 663.9 1218.4 648.9 1218.3 644.5Z" fill="#f1d492" stroke="#17110a" stroke-width="1.7" stroke-linejoin="round" stroke-linecap="round"/>
<path d="M1185 634.4L1196.4 630.5L1249 642.1L1249 692.5L1242.5 691.4L1242.5 670.6L1219.1 645.3L1218.3 644.5L1207.3 645.3L1207.8 665.6L1199.5 662Z" fill="#e7bd6c" stroke="#17110a" stroke-width="1.7" stroke-linejoin="round" stroke-linecap="round"/>
<path d="M1207.8 667.2L1207.3 645.3L1218.3 644.5L1218.3 644.5L1218.8 671.1" fill="#f1d492" stroke="#17110a" stroke-width="1.7" stroke-linejoin="round" stroke-linecap="round"/>
<path d="M1195.6 610.6L1243.3 620.3L1249 621.4L1249 642.1L1196.4 630.5Z" fill="url(#wTop)" stroke="#17110a" stroke-width="1.7" stroke-linejoin="round" stroke-linecap="round"/>
<path d="M1184.4 614.1L1195.6 610.6L1196.4 630.5L1185 634.4Z" fill="url(#wLight)" stroke="#17110a" stroke-width="1.7" stroke-linejoin="round" stroke-linecap="round"/></g>
<g id="fing5"><path d="M1283.5 676.9L1336 689.8L1336 756.7L1283.1 744.5Z" fill="#cfa460" stroke="none" stroke-width="1.7" stroke-linejoin="round" stroke-linecap="round"/>
<path d="M1283.5 676.9L1289.7 679.7L1289.7 681.2C1290.5 684.4 1292.5 693.2 1294.8 700C1297.1 706.8 1300.4 713.6 1303.4 721.9C1306.4 730.2 1311.2 745.3 1312.8 750L1283.1 744.5Z" fill="#e9c273" stroke="#17110a" stroke-width="1.7" stroke-linejoin="round" stroke-linecap="round"/>
<path d="M1283.3 696.9L1294.8 700" fill="none" stroke="#17110a" stroke-width="1.7" stroke-linejoin="round" stroke-linecap="round"/>
<path d="M1300.6 662.8L1324.5 693.8L1324.5 752.8L1323.8 750.8C1322.2 746.2 1317.4 731.6 1314.4 723.4C1311.4 715.2 1308.1 708.1 1305.8 701.6C1303.5 695.1 1301.5 690.9 1300.6 684.4C1299.7 677.9 1300.3 666.1 1300.3 662.5Z" fill="url(#wRec)" stroke="#17110a" stroke-width="1.7" stroke-linejoin="round" stroke-linecap="round"/>
<path d="M1325 694.5L1336 695.9L1336 756L1325 753.1Z" fill="#ecc672" stroke="#17110a" stroke-width="1.7" stroke-linejoin="round" stroke-linecap="round"/>
<path d="M1325 710.2L1336 711" fill="none" stroke="#17110a" stroke-width="1.7" stroke-linejoin="round" stroke-linecap="round"/>
<path d="M1283.1 744.5L1336 756.7L1336 766.5L1283.1 754.7Z" fill="#efc977" stroke="#17110a" stroke-width="1.7" stroke-linejoin="round" stroke-linecap="round"/>
<path d="M1289.4 663.3C1289.5 666.3 1288.8 675.1 1289.7 681.2C1290.6 687.4 1292.5 693.2 1294.8 700C1297.1 706.8 1300.4 713.6 1303.4 721.9C1306.4 730.2 1311.2 745.3 1312.8 750L1323.8 750.8L1323.8 750.8C1322.2 746.2 1317.4 731.6 1314.4 723.4C1311.4 715.2 1308.1 708.1 1305.8 701.6C1303.5 695.1 1301.5 690.9 1300.6 684.4C1299.7 677.9 1300.3 666.1 1300.3 662.5Z" fill="#f1d492" stroke="#17110a" stroke-width="1.7" stroke-linejoin="round" stroke-linecap="round"/>
<path d="M1270.3 651.6L1280.3 648.4L1336 661L1336 695.9L1325 694.5L1324.5 693.8L1300.3 662.5L1289.4 663.3L1289.7 679.7L1283.9 676.9Z" fill="#e7bd6c" stroke="#17110a" stroke-width="1.7" stroke-linejoin="round" stroke-linecap="round"/>
<path d="M1289.7 681.2L1289.4 663.3L1300.3 662.5L1300.3 662.5L1300.6 684.4" fill="#f1d492" stroke="#17110a" stroke-width="1.7" stroke-linejoin="round" stroke-linecap="round"/>
<path d="M1280 629.4L1328.4 638.8L1336 640.2L1336 661L1280.3 648.4Z" fill="url(#wTop)" stroke="#17110a" stroke-width="1.7" stroke-linejoin="round" stroke-linecap="round"/>
<path d="M1269.4 632L1280 629.4L1280.3 648.4L1270.3 651.6Z" fill="url(#wLight)" stroke="#17110a" stroke-width="1.7" stroke-linejoin="round" stroke-linecap="round"/></g>
<path d="M1418.6 727.7L1429.1 732.8L1429.1 732.8C1428.6 733.9 1428 737 1426.4 739.4C1424.8 741.8 1422.6 744.3 1419.4 747.2C1416.1 750.1 1411.6 753.6 1406.9 756.6C1402.2 759.5 1396.5 762 1391.2 764.7C1386 767.3 1378.2 771.2 1375.6 772.5L1365.5 772.2L1365.5 764.7L1375.6 764.7L1375.6 764.7C1380.3 762.9 1397 757.4 1403.8 754.2C1410.5 751 1413.1 748.4 1416.2 745.6C1419.4 742.9 1422.1 740.8 1422.5 737.8C1422.9 734.8 1419.2 729.3 1418.6 727.7Z" fill="#efc977" stroke="#17110a" stroke-width="1.7" stroke-linejoin="round" stroke-linecap="round"/>
<path d="M1417.8 739.4C1418.3 738.9 1420.1 737.2 1420.9 736.2C1421.8 735.3 1422.5 733.9 1422.8 733.4" fill="none" stroke="#17110a" stroke-width="1.1" stroke-linejoin="round" stroke-linecap="round"/>
<path d="M1365.5 717.5L1376.9 717.8L1375.6 764.7L1365.5 764.7Z" fill="#e7bd6c" stroke="#17110a" stroke-width="1.7" stroke-linejoin="round" stroke-linecap="round"/>
<path d="M1377.2 707.3L1419.8 679.7L1419.4 705.3L1395.6 737.8L1395.6 737.8C1395.6 738.6 1394.5 741.5 1395.3 742.8C1396.1 744.1 1398.7 746.2 1400.6 745.6C1402.6 745.1 1405.8 740.4 1406.9 739.4L1418.6 727.7L1418.6 727.7C1419.2 729.3 1422.9 734.8 1422.5 737.8C1422.1 740.8 1419.4 742.9 1416.2 745.6C1413.1 748.4 1410.5 751 1403.8 754.2C1397 757.4 1380.3 762.9 1375.6 764.7L1376.9 717.5Z" fill="url(#wLight)" stroke="#17110a" stroke-width="1.7" stroke-linejoin="round" stroke-linecap="round"/>
<path d="M1420.9 657.8L1434.7 659.7L1435.3 706.6L1406.9 739.4L1406.9 739.4C1405.8 740.4 1402.6 745.1 1400.6 745.6C1398.7 746.2 1396.1 744.1 1395.3 742.8C1394.5 741.5 1395.6 738.6 1395.6 737.8L1419.4 705.3L1420.2 678.4Z" fill="#e7bd6c" stroke="#17110a" stroke-width="1.7" stroke-linejoin="round" stroke-linecap="round"/>
<path d="M1411.6 640.6L1424.8 643.8L1434.7 659.7L1420.9 657.8Z" fill="#dcb272" stroke="#17110a" stroke-width="1.7" stroke-linejoin="round" stroke-linecap="round"/></g>
<g clip-path="url(#skiclip)">
<g id="back2"><path d="M978 485.5C979.4 486.2 983.5 488.1 986.6 490C989.7 491.9 993.4 493.8 996.7 496.9C1000 500 1003.6 505 1006.5 508.6C1009.4 512.2 1012.2 515.3 1014.3 518.4C1016.4 521.5 1018.2 525.6 1019 527L1012.9 567.2L1008 600L1006 600C1005.7 596.2 1004.9 583.8 1004 577C1003.1 570.2 1001.9 564.9 1000.5 559.4C999.1 553.9 997.6 549 995.7 543.8C993.8 538.5 991.3 533 988.9 528.1C986.5 523.2 983.5 518.1 981.1 514.5C978.7 510.9 976.8 509.3 974.3 506.6C971.8 503.9 967.4 499.9 966 498.5Z" fill="url(#gBack)" stroke="#0d0b14" stroke-width="1.8" stroke-linejoin="round" stroke-linecap="round"/>
<path d="M963 501C964.4 502.4 968.8 506.7 971.3 509.6C973.8 512.5 975.7 514.8 978.1 518.5C980.5 522.2 983.2 527.2 985.5 532C987.8 536.8 990 541.8 991.7 547C993.5 552.2 994.9 557.5 996 563C997.1 568.5 997.8 573.8 998.3 580C998.8 586.2 998.9 596.7 999 600L997.5 846L1004.8 846L1006 600L1006 600C1005.7 596.2 1004.9 583.8 1004 577C1003.1 570.2 1001.9 564.9 1000.5 559.4C999.1 553.9 997.6 549 995.7 543.8C993.8 538.5 991.3 533 988.9 528.1C986.5 523.2 983.5 518.1 981.1 514.5C978.7 510.9 976.8 509.3 974.3 506.6C971.8 503.9 967.4 499.9 966 498.5Z" fill="#a29cfb" stroke="#0d0b14" stroke-width="1.8" stroke-linejoin="round" stroke-linecap="round"/></g>
<g id="back3"><path d="M1066 488C1067.7 489 1072.6 491.9 1076.1 494C1079.6 496.1 1083.5 498.1 1086.9 500.8C1090.3 503.6 1093.7 507.1 1096.6 510.5C1099.5 513.9 1102.4 518 1104.5 521.3C1106.6 524.5 1108.2 528.5 1109 530L1102.6 582.8L1098.4 610L1096.3 610C1096.2 606.8 1096.3 596.4 1096 590.6C1095.7 584.8 1095.4 579.9 1094.7 575C1094 570.1 1093.1 565.8 1091.8 561.3C1090.5 556.8 1088.9 552.2 1086.9 547.7C1084.9 543.2 1082.5 538.4 1080 534C1077.5 529.6 1074.8 524.9 1072.2 521.3C1069.6 517.7 1067.1 515.4 1064.4 512.5C1061.7 509.6 1057.4 505.4 1056 504Z" fill="url(#gBack)" stroke="#0d0b14" stroke-width="1.8" stroke-linejoin="round" stroke-linecap="round"/>
<path d="M1053 506C1054.4 507.6 1058.8 512.2 1061.5 515.4C1064.2 518.6 1066.7 521.5 1069.3 525.2C1071.9 529 1074.8 533.5 1077.1 537.9C1079.4 542.3 1081.6 546.7 1083.4 551.6C1085.2 556.5 1086.8 562 1087.9 567.2C1089 572.4 1089.4 577.6 1089.8 582.8C1090.2 588 1090.3 593.9 1090.4 598.4C1090.5 602.9 1090.6 608.1 1090.6 610L1089.8 846L1095.8 846L1096.3 610L1096.3 610C1096.2 606.8 1096.3 596.4 1096 590.6C1095.7 584.8 1095.4 579.9 1094.7 575C1094 570.1 1093.1 565.8 1091.8 561.3C1090.5 556.8 1088.9 552.2 1086.9 547.7C1084.9 543.2 1082.5 538.4 1080 534C1077.5 529.6 1074.8 524.9 1072.2 521.3C1069.6 517.7 1067.1 515.4 1064.4 512.5C1061.7 509.6 1057.4 505.4 1056 504Z" fill="#a29cfb" stroke="#0d0b14" stroke-width="1.8" stroke-linejoin="round" stroke-linecap="round"/></g>
<g id="back4"><path d="M1141 514C1142.6 515.2 1147.1 518.6 1150.4 521.3C1153.8 524 1157.7 526.7 1161.1 530.1C1164.5 533.5 1168.1 537.9 1170.9 541.8C1173.7 545.7 1176 550.3 1177.7 553.5C1179.4 556.7 1180.5 559.8 1181 561L1175.2 606.2L1170.5 645L1168.1 645C1168.1 642.5 1168.1 634.9 1167.9 629.7C1167.7 624.5 1167.5 619.2 1167 614C1166.5 608.8 1166 603.6 1165 598.4C1164 593.2 1162.7 588 1161.1 582.8C1159.5 577.6 1157.5 572.1 1155.2 567.2C1152.9 562.3 1149.9 557.4 1147.4 553.5C1144.9 549.6 1142.7 547.2 1140 543.8C1137.3 540.3 1132.5 534.8 1131 533Z" fill="url(#gBack)" stroke="#0d0b14" stroke-width="1.8" stroke-linejoin="round" stroke-linecap="round"/>
<path d="M1128 535C1129.5 536.8 1134 542.1 1136.7 545.7C1139.5 549.3 1141.9 552.2 1144.5 556.4C1147.1 560.6 1150 566 1152.3 571.1C1154.6 576.2 1156.7 581.5 1158.2 586.7C1159.7 591.9 1160.7 597.1 1161.3 602.3C1161.9 607.5 1161.9 610.9 1162.1 618C1162.2 625.1 1162.2 640.5 1162.2 645L1161.5 846L1168.1 846L1168.1 645L1168.1 645C1168.1 642.5 1168.1 634.9 1167.9 629.7C1167.7 624.5 1167.5 619.2 1167 614C1166.5 608.8 1166 603.6 1165 598.4C1164 593.2 1162.7 588 1161.1 582.8C1159.5 577.6 1157.5 572.1 1155.2 567.2C1152.9 562.3 1149.9 557.4 1147.4 553.5C1144.9 549.6 1142.7 547.2 1140 543.8C1137.3 540.3 1132.5 534.8 1131 533Z" fill="#a29cfb" stroke="#0d0b14" stroke-width="1.8" stroke-linejoin="round" stroke-linecap="round"/></g>
<g id="back5"><path d="M1224 526C1225.4 527 1229.7 529.9 1232.4 532C1235.1 534.1 1237.1 536.3 1240 538.9C1242.9 541.5 1246.9 544.3 1249.8 547.7C1252.7 551.1 1255.3 555.3 1257.6 559.4C1259.9 563.5 1262 568.7 1263.4 572.1C1264.8 575.5 1265.6 578.7 1266 580L1259.4 625.8L1255 650L1252.7 650C1252.6 646.6 1252.6 635.7 1252.1 629.7C1251.6 623.7 1250.8 619.3 1249.8 614.1C1248.8 608.9 1247.5 603.3 1245.9 598.4C1244.3 593.5 1241.8 588.4 1240 584.8C1238.2 581.2 1237.4 580.6 1235.3 577C1233.2 573.4 1229.9 567 1227.5 563.3C1225.1 559.5 1223.3 557.7 1220.7 554.5C1218.1 551.3 1213.5 545.8 1212 544Z" fill="url(#gBack)" stroke="#0d0b14" stroke-width="1.8" stroke-linejoin="round" stroke-linecap="round"/>
<path d="M1209 546C1210.5 547.8 1215 553.5 1217.7 557C1220.5 560.5 1223 563.2 1225.5 567.2C1228 571.2 1230.4 576.4 1232.4 580.9C1234.4 585.4 1235.9 590.3 1237.3 594.5C1238.7 598.7 1239.7 601.8 1240.8 606C1241.9 610.2 1243.1 615.2 1243.9 620C1244.7 624.8 1245.4 630 1245.8 635C1246.2 640 1246.4 647.5 1246.5 650L1245.5 846L1252.9 846L1252.7 650L1252.7 650C1252.6 646.6 1252.6 635.7 1252.1 629.7C1251.6 623.7 1250.8 619.3 1249.8 614.1C1248.8 608.9 1247.5 603.3 1245.9 598.4C1244.3 593.5 1241.8 588.4 1240 584.8C1238.2 581.2 1237.4 580.6 1235.3 577C1233.2 573.4 1229.9 567 1227.5 563.3C1225.1 559.5 1223.3 557.7 1220.7 554.5C1218.1 551.3 1213.5 545.8 1212 544Z" fill="#a29cfb" stroke="#0d0b14" stroke-width="1.8" stroke-linejoin="round" stroke-linecap="round"/></g>
<g id="back6"><path d="M1306 538C1307.5 539.1 1312.2 542.4 1315.2 544.7C1318.2 547 1320.9 548.5 1324 551.6C1327.1 554.7 1330.8 559.1 1333.8 563.3C1336.7 567.5 1339.3 572.8 1341.6 577C1343.9 581.2 1346 585.5 1347.4 588.7C1348.8 591.9 1349.6 594.8 1350 596L1346.7 625.8L1342 670L1339.7 670C1339.5 666.7 1339 655.8 1338.3 650C1337.6 644.2 1336.8 640.5 1335.7 635.5C1334.6 630.5 1333.4 625.1 1331.8 619.9C1330.2 614.7 1328.2 609.5 1325.9 604.3C1323.6 599.1 1320.7 593.6 1318.1 588.7C1315.5 583.8 1312.7 578.8 1310.3 575C1307.9 571.2 1306 569.4 1303.5 566.2C1301 563 1296.4 557.7 1295 556Z" fill="url(#gBack)" stroke="#0d0b14" stroke-width="1.8" stroke-linejoin="round" stroke-linecap="round"/>
<path d="M1292 558.5C1293.4 560.3 1297.9 565.7 1300.5 569.1C1303.1 572.5 1305 575 1307.4 578.9C1309.9 582.8 1312.8 587.7 1315.2 592.6C1317.6 597.5 1320 603 1322 608.2C1324 613.4 1325.5 618.6 1326.9 623.8C1328.3 629 1329.4 634.3 1330.3 639.5C1331.2 644.7 1331.8 649.9 1332.3 655C1332.8 660.1 1333.2 667.5 1333.4 670L1332 846L1339 846L1339.7 670L1339.7 670C1339.5 666.7 1339 655.8 1338.3 650C1337.6 644.2 1336.8 640.5 1335.7 635.5C1334.6 630.5 1333.4 625.1 1331.8 619.9C1330.2 614.7 1328.2 609.5 1325.9 604.3C1323.6 599.1 1320.7 593.6 1318.1 588.7C1315.5 583.8 1312.7 578.8 1310.3 575C1307.9 571.2 1306 569.4 1303.5 566.2C1301 563 1296.4 557.7 1295 556Z" fill="#a29cfb" stroke="#0d0b14" stroke-width="1.8" stroke-linejoin="round" stroke-linecap="round"/></g>
<g id="pair1"><path d="M933 512C933.8 509.8 935.9 502.9 937.7 498.8C939.5 494.7 941.3 491 944 487.1C946.7 483.2 950.2 479 953.8 475.4C957.3 471.8 961.6 468.2 965.5 465.6C969.4 463 973.6 461 977.2 459.8C980.8 458.6 985.4 458.5 987 458.2L987 458.2C987.8 458.8 990.7 460 991.8 461.7C992.9 463.4 993.6 466.5 993.8 468.6C994 470.7 993 473.4 992.8 474.4L992.8 474.4C991.5 476.5 987.9 482.4 985 487.1C982.1 491.8 978.3 497.2 975.2 502.7C972.1 508.2 968.8 514.8 966.4 520.3C964 525.8 962 530.7 960.6 535.9C959.2 541.1 958.3 546.4 957.7 551.6C957.1 556.8 957.2 559.1 957.1 567.2C957 575.3 957 586.2 957 600C957 613.8 957 641.7 957 650L954.5 846L948.3 846L951 650L945 560Z" fill="#a29cfb" stroke="#0d0b14" stroke-width="1.8" stroke-linejoin="round" stroke-linecap="round"/>
<path d="M933 512C933.8 509.8 935.9 502.9 937.7 498.8C939.5 494.7 941.3 491 944 487.1C946.7 483.2 950.2 479 953.8 475.4C957.3 471.8 961.6 468.2 965.5 465.6C969.4 463 973.6 461 977.2 459.8C980.8 458.6 985.4 458.5 987 458.2L987 458.2L991.8 461.7L990.5 463C990.3 464.4 990.9 467.8 989.3 471.5C987.7 475.2 984.1 480.3 981.1 485.2C978.1 490.1 974.4 495.3 971.3 500.8C968.2 506.3 964.9 512.9 962.5 518.4C960.1 523.9 958.2 528.8 956.7 534C955.2 539.2 954.2 544.4 953.4 549.6C952.5 554.8 952 559.9 951.6 565C951.2 570.1 951.1 565.8 951 580C950.9 594.2 951 638.3 951 650L948.3 846L942 846L940 600Z" fill="url(#gP1R)" stroke="#0d0b14" stroke-width="1.8" stroke-linejoin="round" stroke-linecap="round"/>
<path d="M893.5 458.4C895.5 459.5 901.6 462.2 905.3 465C909 467.8 912.2 471.3 915.5 475.2C918.8 479.1 921.9 483.6 924.8 488.4C927.7 493.2 930.4 498.6 932.7 504.1C935.1 509.6 937.2 515.5 938.9 521.2C940.6 527 941.8 532.4 942.8 538.4C943.8 544.4 944.3 550.3 944.8 557.2C945.2 564.1 945.4 564.5 945.5 580C945.6 595.5 946 605.7 945.5 650C945 694.3 943 813.3 942.5 846L948.3 846L951 650C951 635.8 951 582.3 950.9 565C950.8 547.7 950.9 552.5 950.3 546.2C949.7 540 948.8 533.2 947.5 527.5C946.2 521.8 944.9 517.4 942.8 511.9C940.7 506.4 937.9 499.9 935 494.7C932.1 489.5 929 484.9 925.6 480.6C922.2 476.3 918.3 472.1 914.7 468.9C911.1 465.6 907.3 462.9 903.8 461.1C900.2 459.3 895.3 458.5 893.6 458Z" fill="#a29cfb" stroke="#0d0b14" stroke-width="1.8" stroke-linejoin="round" stroke-linecap="round"/>
<path d="M915 846C915.3 813.3 916.7 693.2 917 650C917.3 606.8 917.2 600.7 917 586.7C916.8 572.7 916 571.5 915.5 566C915 560.5 914.6 557.5 913.7 553.5C912.9 549.5 911.9 546.3 910.4 541.8C908.9 537.2 907.1 531.7 904.9 526.2C902.7 520.7 900 514.5 897.1 508.6C894.2 502.7 890.2 496.2 887.3 491C884.4 485.8 881.2 480.9 879.5 477.3C877.8 473.7 877.6 470.8 877.2 469.5L877.2 469.5C877.4 468.4 877.6 464.5 878.6 462.7C879.6 460.9 881.8 459.6 883.5 458.7C885.2 457.8 887.3 457.6 889 457.5C890.7 457.4 892.8 458.1 893.5 458.2L893.5 458.4C895.5 459.5 901.6 462.2 905.3 465C909 467.8 912.2 471.3 915.5 475.2C918.8 479.1 921.9 483.6 924.8 488.4C927.7 493.2 930.4 498.6 932.7 504.1C935.1 509.6 937.2 515.5 938.9 521.2C940.6 527 941.8 532.4 942.8 538.4C943.8 544.4 944.3 550.3 944.8 557.2C945.2 564.1 945.4 564.5 945.5 580C945.6 595.5 946 605.7 945.5 650C945 694.3 943 813.3 942.5 846Z" fill="url(#gP1L)" stroke="#0d0b14" stroke-width="1.8" stroke-linejoin="round" stroke-linecap="round"/></g>
<g id="front2"><path d="M1005.5 597 L1008.5 597 L1007.3 846 L1004.3 846 Z" fill="#5a52b8"/>
<path d="M1006.8 846L1008 600C1008 597.1 1008.1 588.3 1008.2 582.8C1008.4 577.3 1008.5 572.4 1008.9 567.2C1009.3 562 1009.7 556.8 1010.5 551.6C1011.3 546.4 1012.2 541.4 1013.6 535.9C1015 530.4 1016.5 523.9 1018.6 518.4C1020.7 512.9 1023.1 507.9 1026 502.7C1028.9 497.5 1032.2 492 1035.8 487.1C1039.4 482.2 1044.8 476.3 1047.5 473.4C1050.2 470.5 1049 471.3 1051.7 469.5C1054.4 467.7 1059.7 464.2 1063.4 462.7C1067.2 461.1 1072.4 460.6 1074.2 460.2L1074.2 460.2C1075.2 460.6 1078.3 461.1 1080 462.7C1081.7 464.2 1083.8 467.1 1084.5 469.5C1085.2 471.9 1084.9 474.7 1084.5 477.3C1084.1 479.9 1082.4 483.9 1082 485.2L1082 485.2C1080.5 487.5 1076.3 493.9 1073.2 498.8C1070.1 503.7 1066.7 509 1063.4 514.5C1060.2 520 1056.6 526.1 1053.7 532C1050.8 537.9 1048 543.7 1045.9 549.6C1043.8 555.5 1042.2 562.1 1041 567.2C1039.8 572.3 1039.2 574.5 1038.5 580C1037.8 585.5 1036.9 593.3 1036.5 600C1036.1 606.7 1036.1 616.7 1036 620L1034.5 846Z" fill="url(#gFront)" stroke="#0d0b14" stroke-width="1.8" stroke-linejoin="round" stroke-linecap="round"/>
<path d="M1006.8 846L1008 600C1008 597.1 1008.1 588.3 1008.2 582.8C1008.4 577.3 1008.5 572.4 1008.9 567.2C1009.3 562 1009.7 556.8 1010.5 551.6C1011.3 546.4 1012.2 541.4 1013.6 535.9C1015 530.4 1016.5 523.9 1018.6 518.4C1020.7 512.9 1023.1 507.9 1026 502.7C1028.9 497.5 1032.2 492 1035.8 487.1C1039.4 482.2 1044.8 476.3 1047.5 473.4C1050.2 470.5 1049 471.3 1051.7 469.5C1054.4 467.7 1059.7 464.2 1063.4 462.7C1067.2 461.1 1072.4 460.6 1074.2 460.2L1074.2 460.2L1080 462.7L1080 463.6C1078.9 463.7 1076 463.4 1073.2 463.9C1070.4 464.4 1067 465 1063.4 466.8C1059.8 468.6 1055.3 471 1051.7 474.9C1048.1 478.8 1044.9 484.9 1041.6 490C1038.3 495.1 1034.9 500.6 1032.1 505.7C1029.3 510.8 1026.9 515.3 1024.8 520.3C1022.7 525.3 1020.9 530.7 1019.4 535.9C1017.9 541.1 1016.8 546.4 1015.9 551.6C1015 556.8 1014.3 562 1013.9 567.2C1013.5 572.4 1013.6 577.3 1013.5 582.8C1013.4 588.3 1013.4 597.1 1013.4 600L1012.5 846Z" fill="#a29cfb" stroke="#0d0b14" stroke-width="1.8" stroke-linejoin="round" stroke-linecap="round"/></g>
<g id="front3"><path d="M1095.8 607 L1098.9 607 L1098.3 846 L1095.3 846 Z" fill="#5a52b8"/>
<path d="M1097.8 846L1098.4 610C1098.4 608.1 1098.4 602.9 1098.4 598.4C1098.4 593.9 1098.4 588 1098.6 582.8C1098.8 577.6 1099.1 572.4 1099.8 567.2C1100.5 562 1101.2 557.1 1102.5 551.6C1103.8 546.1 1105.5 539.9 1107.4 534C1109.4 528.1 1111.6 522.3 1114.2 516.4C1116.8 510.5 1119.7 504.3 1123 498.8C1126.3 493.3 1130 487.8 1133.8 483.2C1137.5 478.6 1141.6 474.6 1145.5 471.5C1149.4 468.4 1154 466.1 1157.2 464.6C1160.5 463.1 1163.7 463 1165 462.7L1165 462.7C1166 463.2 1169.4 464 1170.9 465.6C1172.4 467.2 1173.5 469.9 1173.8 472.5C1174.1 475.1 1173.6 478.3 1172.8 481.2C1172 484.2 1169.6 488.5 1168.9 490L1168.9 490C1167.3 492.4 1162.3 499.6 1159.1 504.7C1155.8 509.8 1152.7 514.8 1149.4 520.3C1146.2 525.8 1142.5 532 1139.6 537.9C1136.7 543.8 1133.8 549.6 1131.8 555.5C1129.8 561.4 1128.7 567.8 1127.8 573C1126.9 578.2 1126.8 582.2 1126.5 586.7C1126.2 591.2 1126.3 592.8 1126.2 600C1126.2 607.2 1126.2 625 1126.2 630L1125.2 846Z" fill="url(#gFront)" stroke="#0d0b14" stroke-width="1.8" stroke-linejoin="round" stroke-linecap="round"/>
<path d="M1097.8 846L1098.4 610C1098.4 608.1 1098.4 602.9 1098.4 598.4C1098.4 593.9 1098.4 588 1098.6 582.8C1098.8 577.6 1099.1 572.4 1099.8 567.2C1100.5 562 1101.2 557.1 1102.5 551.6C1103.8 546.1 1105.5 539.9 1107.4 534C1109.4 528.1 1111.6 522.3 1114.2 516.4C1116.8 510.5 1119.7 504.3 1123 498.8C1126.3 493.3 1130 487.8 1133.8 483.2C1137.5 478.6 1141.6 474.6 1145.5 471.5C1149.4 468.4 1154 466.1 1157.2 464.6C1160.5 463.1 1163.7 463 1165 462.7L1165 462.7L1170.9 465.6L1171.5 466.3C1170.8 466.2 1169.1 465.6 1167 466C1164.9 466.4 1162.2 466.9 1159.1 468.6C1156 470.3 1152 473.1 1148.4 476.4C1144.8 479.6 1141.1 483.7 1137.7 488.1C1134.3 492.5 1130.9 497.5 1127.9 502.7C1124.9 507.9 1122.2 513.8 1119.7 519.3C1117.2 524.8 1115 530.5 1113.2 535.9C1111.4 541.3 1110 546.4 1108.8 551.6C1107.5 556.8 1106.7 562 1106 567.2C1105.3 572.4 1104.9 577.6 1104.6 582.8C1104.3 588 1104.3 593.9 1104.3 598.4C1104.2 602.9 1104.3 608.1 1104.3 610L1104 846Z" fill="#a29cfb" stroke="#0d0b14" stroke-width="1.8" stroke-linejoin="round" stroke-linecap="round"/></g>
<g id="front4"><path d="M1167.6 642 L1171 642 L1170.8 846 L1167.6 846 Z" fill="#5a52b8"/>
<path d="M1170.3 846L1170.5 645C1170.5 641.8 1170.4 632.3 1170.5 625.8C1170.6 619.3 1170.7 612.8 1171.2 606.2C1171.8 599.7 1172.7 593.2 1173.8 586.7C1174.9 580.2 1176.1 573.7 1177.7 567.2C1179.3 560.7 1181.3 553.9 1183.6 547.7C1185.9 541.5 1188.5 536 1191.4 530.1C1194.3 524.2 1197.7 517.4 1201.1 512.5C1204.5 507.6 1208.2 504.1 1211.9 500.8C1215.7 497.6 1220 494.7 1223.6 493C1227.2 491.3 1231.8 491 1233.4 490.6L1233.4 490.6C1234.5 491.1 1238.4 492 1240 493.4C1241.6 494.8 1242.2 496.8 1242.9 498.8C1243.6 500.9 1244.1 503.4 1243.9 505.7C1243.8 508 1242.7 510.7 1242 512.5C1241.3 514.3 1240.3 515.8 1240 516.4L1240 516.4C1238.4 519 1233.5 526.8 1230.4 532C1227.3 537.2 1224.4 542.2 1221.6 547.7C1218.8 553.2 1216.1 559.4 1213.8 565.2C1211.5 571.1 1209.6 577.3 1208 582.8C1206.4 588.3 1205.2 593.5 1204.1 598.4C1203 603.3 1202.2 606.7 1201.5 612C1200.8 617.3 1200.1 622 1199.8 630C1199.5 638 1199.5 655 1199.4 660L1197.8 846Z" fill="url(#gFront)" stroke="#0d0b14" stroke-width="1.8" stroke-linejoin="round" stroke-linecap="round"/>
<path d="M1170.3 846L1170.5 645C1170.5 641.8 1170.4 632.3 1170.5 625.8C1170.6 619.3 1170.7 612.8 1171.2 606.2C1171.8 599.7 1172.7 593.2 1173.8 586.7C1174.9 580.2 1176.1 573.7 1177.7 567.2C1179.3 560.7 1181.3 553.9 1183.6 547.7C1185.9 541.5 1188.5 536 1191.4 530.1C1194.3 524.2 1197.7 517.4 1201.1 512.5C1204.5 507.6 1208.2 504.1 1211.9 500.8C1215.7 497.6 1220 494.7 1223.6 493C1227.2 491.3 1231.8 491 1233.4 490.6L1233.4 490.6L1240 493.4L1240.5 494.4C1239.6 494.4 1237.8 493.9 1235.3 494.5C1232.8 495.1 1228.9 495.9 1225.5 497.9C1222.1 499.9 1218.2 503 1214.8 506.6C1211.4 510.2 1208.1 514.4 1205 519.3C1201.9 524.2 1198.8 530.5 1196.2 535.9C1193.7 541.3 1191.4 546.1 1189.4 551.6C1187.4 557.1 1185.6 563.2 1184.1 569.1C1182.6 575 1181.3 580.5 1180.2 586.7C1179.1 592.9 1178.3 599.7 1177.7 606.2C1177.1 612.8 1176.9 619.3 1176.7 625.8C1176.5 632.3 1176.7 641.8 1176.7 645L1176 846Z" fill="#a29cfb" stroke="#0d0b14" stroke-width="1.8" stroke-linejoin="round" stroke-linecap="round"/></g>
<g id="front5"><path d="M1252.2 647 L1255.5 647 L1255.4 846 L1252.4 846 Z" fill="#5a52b8"/>
<path d="M1254.9 846L1255 660C1255 658.3 1254.9 655.7 1255 650C1255.1 644.3 1255 633.1 1255.4 625.8C1255.8 618.5 1256.6 612.8 1257.6 606.2C1258.6 599.7 1259.9 593.2 1261.5 586.7C1263.1 580.2 1265 573.7 1267.3 567.2C1269.6 560.7 1272.3 554.2 1275.2 547.7C1278.1 541.2 1281.3 534.3 1284.9 528.1C1288.5 521.9 1292.7 515.4 1296.6 510.5C1300.5 505.6 1304.8 501.7 1308.4 498.8C1312 495.9 1315.2 494.4 1318.1 493.4C1321 492.4 1324.6 492.7 1325.9 492.6L1325.9 492.6C1326.9 493.3 1330.4 494.7 1331.8 496.9C1333.2 499.1 1334.1 502.4 1334.1 505.7C1334.1 508.9 1333.2 512.7 1331.8 516.4C1330.4 520.1 1326.9 526.1 1325.9 528.1L1325.9 528.1C1324.3 530.7 1319.5 538.2 1316.2 543.8C1313 549.3 1309.5 555.4 1306.4 561.3C1303.3 567.2 1300.2 573 1297.6 578.9C1295 584.8 1292.6 590.6 1290.8 596.5C1289 602.4 1287.6 608.5 1286.5 614.1C1285.4 619.7 1284.7 624 1284.2 630C1283.7 636 1283.5 643.3 1283.3 650C1283.1 656.7 1283.1 666.7 1283.1 670L1281.5 846Z" fill="url(#gFront)" stroke="#0d0b14" stroke-width="1.8" stroke-linejoin="round" stroke-linecap="round"/>
<path d="M1254.9 846L1255 660C1255 658.3 1254.9 655.7 1255 650C1255.1 644.3 1255 633.1 1255.4 625.8C1255.8 618.5 1256.6 612.8 1257.6 606.2C1258.6 599.7 1259.9 593.2 1261.5 586.7C1263.1 580.2 1265 573.7 1267.3 567.2C1269.6 560.7 1272.3 554.2 1275.2 547.7C1278.1 541.2 1281.3 534.3 1284.9 528.1C1288.5 521.9 1292.7 515.4 1296.6 510.5C1300.5 505.6 1304.8 501.7 1308.4 498.8C1312 495.9 1315.2 494.4 1318.1 493.4C1321 492.4 1324.6 492.7 1325.9 492.6L1325.9 492.6L1331.8 496.9L1332.4 497.4C1331.8 497.1 1330.6 496 1328.9 495.9C1327.2 495.8 1324.8 495.8 1322 496.9C1319.2 498 1315.8 499.8 1312.3 502.7C1308.8 505.6 1304.6 509.9 1300.9 514.5C1297.2 519.1 1293.7 524.4 1290.4 530.1C1287.1 535.8 1283.8 542.4 1281 548.6C1278.2 554.8 1275.8 560.9 1273.6 567.2C1271.4 573.6 1269.3 580.2 1267.7 586.7C1266.1 593.2 1264.8 599.7 1263.8 606.2C1262.8 612.8 1262.3 618.5 1261.9 625.8C1261.5 633.1 1261.4 644.3 1261.2 650C1261.1 655.7 1261.2 658.3 1261.2 660L1260.5 846Z" fill="#a29cfb" stroke="#0d0b14" stroke-width="1.8" stroke-linejoin="round" stroke-linecap="round"/></g>
<g id="front6"><path d="M1339.2 667 L1342.5 667 L1341.5 846 L1338.5 846 Z" fill="#5a52b8"/>
<path d="M1341 846L1342 670C1342 666.7 1341.9 657.4 1342 650C1342.1 642.6 1342.1 633.1 1342.7 625.8C1343.3 618.5 1344.2 612.8 1345.5 606.2C1346.8 599.7 1348.5 593.2 1350.4 586.7C1352.4 580.2 1354.6 573.7 1357.2 567.2C1359.8 560.7 1362.8 554.2 1366 547.7C1369.2 541.2 1373 534 1376.7 528.1C1380.4 522.2 1384.5 516.9 1388.4 512.5C1392.3 508.1 1396.6 504.4 1400.2 501.8C1403.8 499.2 1407.3 497.8 1409.9 496.9C1412.5 496 1414.8 496.6 1415.8 496.5L1415.8 496.5C1416.8 497.2 1420.1 498.5 1421.6 500.8C1423.1 503.1 1424.6 507.1 1424.6 510.5C1424.6 513.9 1423.1 518 1421.6 521.3C1420.1 524.6 1416.8 528.6 1415.8 530.1L1415.8 530.1C1414.2 532.4 1409.3 538.9 1406 543.8C1402.7 548.6 1399.5 553.9 1396.2 559.4C1393 564.9 1389.4 571.1 1386.5 577C1383.6 582.9 1381 588.6 1378.7 594.5C1376.4 600.4 1374.3 606.2 1372.8 612.1C1371.3 618 1370.7 624.2 1369.9 629.7C1369.2 635.2 1368.7 640.2 1368.3 645.3C1367.9 650.3 1367.5 652.5 1367.3 660C1367.1 667.5 1367 685 1367 690L1365.2 846Z" fill="url(#gFront)" stroke="#0d0b14" stroke-width="1.8" stroke-linejoin="round" stroke-linecap="round"/>
<path d="M1341 846L1342 670C1342 666.7 1341.9 657.4 1342 650C1342.1 642.6 1342.1 633.1 1342.7 625.8C1343.3 618.5 1344.2 612.8 1345.5 606.2C1346.8 599.7 1348.5 593.2 1350.4 586.7C1352.4 580.2 1354.6 573.7 1357.2 567.2C1359.8 560.7 1362.8 554.2 1366 547.7C1369.2 541.2 1373 534 1376.7 528.1C1380.4 522.2 1384.5 516.9 1388.4 512.5C1392.3 508.1 1396.6 504.4 1400.2 501.8C1403.8 499.2 1407.3 497.8 1409.9 496.9C1412.5 496 1414.8 496.6 1415.8 496.5L1415.8 496.5L1421.6 500.8L1422 501.5C1421.5 501.2 1420.2 500 1418.7 499.8C1417.2 499.6 1415.3 499.4 1412.9 500.4C1410.5 501.4 1407.4 503.2 1404.1 505.7C1400.8 508.2 1396.9 511.3 1393.3 515.4C1389.7 519.5 1385.8 524.6 1382.2 530.1C1378.6 535.6 1374.9 542.4 1371.8 548.6C1368.7 554.8 1365.9 560.9 1363.4 567.2C1360.9 573.6 1358.7 580.2 1356.8 586.7C1354.9 593.2 1353.5 599.7 1352.3 606.2C1351.1 612.8 1350.1 618.5 1349.4 625.8C1348.8 633.1 1348.6 642.6 1348.4 650C1348.2 657.4 1348.3 666.7 1348.3 670L1347 846Z" fill="#a29cfb" stroke="#0d0b14" stroke-width="1.8" stroke-linejoin="round" stroke-linecap="round"/></g>
</g>
<g id="rackFront"><path d="M916.4 577.1L928.1 577.1L928.1 577.1C928 577.8 928.1 579.9 927.6 581C927.1 582.2 926.2 583.3 925 584.2C923.7 585 921.7 585.7 920.3 586.2C918.8 586.6 917 586.7 916.4 586.8Z" fill="#e0b35c" stroke="#17110a" stroke-width="1.7" stroke-linejoin="round" stroke-linecap="round"/>
<path d="M916.4 555.2L927.3 556L928.1 577.1L916.4 577.1Z" fill="#e9c273" stroke="#17110a" stroke-width="1.7" stroke-linejoin="round" stroke-linecap="round"/>
<g clip-path="url(#fc2)"><path d="M1018.9 599.2L1029.1 595.3L1092 610L1092 638.6L1080.6 635.6L1056.4 610.2L1055.6 608.6L1043.9 610.2L1043.1 629.7L1036.1 628.1Z" fill="#e7bd6c" stroke="#17110a" stroke-width="1.7" stroke-linejoin="round" stroke-linecap="round"/>
<path d="M1043.4 628.1L1043.9 610.2L1055.6 608.6L1055.6 608.6L1055.6 631.2" fill="#f1d492" stroke="#17110a" stroke-width="1.7" stroke-linejoin="round" stroke-linecap="round"/>
<path d="M1028.3 575L1087.7 588.3L1092 589.3L1092 610L1029.1 595.3Z" fill="url(#wTop)" stroke="#17110a" stroke-width="1.7" stroke-linejoin="round" stroke-linecap="round"/>
<path d="M1018.1 578.1L1028.3 575L1029.1 595.3L1018.9 599.2Z" fill="url(#wLight)" stroke="#17110a" stroke-width="1.7" stroke-linejoin="round" stroke-linecap="round"/></g>
<g clip-path="url(#fc3)"><path d="M1109.1 618.4L1120 616.1L1164 626.3L1164 647.3L1143.1 627.8L1132.2 629.1L1131.4 646.6L1126.7 645Z" fill="#e7bd6c" stroke="#17110a" stroke-width="1.7" stroke-linejoin="round" stroke-linecap="round"/>
<path d="M1131.9 651.2L1132.2 629.1L1143.1 627.8L1143.1 627.8L1143.1 649.7" fill="#f1d492" stroke="#17110a" stroke-width="1.7" stroke-linejoin="round" stroke-linecap="round"/>
<path d="M1119.4 595.8L1157.2 603.6L1164 605L1164 626.3L1120 616.1Z" fill="url(#wTop)" stroke="#17110a" stroke-width="1.7" stroke-linejoin="round" stroke-linecap="round"/>
<path d="M1108.8 598.9L1119.4 595.8L1120 616.1L1109.1 618.4Z" fill="url(#wLight)" stroke="#17110a" stroke-width="1.7" stroke-linejoin="round" stroke-linecap="round"/></g>
<g clip-path="url(#fc4)"><path d="M1185 634.4L1196.4 630.5L1249 642.1L1249 692.5L1242.5 691.4L1242.5 670.6L1219.1 645.3L1218.3 644.5L1207.3 645.3L1207.8 665.6L1199.5 662Z" fill="#e7bd6c" stroke="#17110a" stroke-width="1.7" stroke-linejoin="round" stroke-linecap="round"/>
<path d="M1207.8 667.2L1207.3 645.3L1218.3 644.5L1218.3 644.5L1218.8 671.1" fill="#f1d492" stroke="#17110a" stroke-width="1.7" stroke-linejoin="round" stroke-linecap="round"/>
<path d="M1195.6 610.6L1243.3 620.3L1249 621.4L1249 642.1L1196.4 630.5Z" fill="url(#wTop)" stroke="#17110a" stroke-width="1.7" stroke-linejoin="round" stroke-linecap="round"/>
<path d="M1184.4 614.1L1195.6 610.6L1196.4 630.5L1185 634.4Z" fill="url(#wLight)" stroke="#17110a" stroke-width="1.7" stroke-linejoin="round" stroke-linecap="round"/></g>
<g clip-path="url(#fc5)"><path d="M1270.3 651.6L1280.3 648.4L1336 661L1336 695.9L1325 694.5L1324.5 693.8L1300.3 662.5L1289.4 663.3L1289.7 679.7L1283.9 676.9Z" fill="#e7bd6c" stroke="#17110a" stroke-width="1.7" stroke-linejoin="round" stroke-linecap="round"/>
<path d="M1289.7 681.2L1289.4 663.3L1300.3 662.5L1300.3 662.5L1300.6 684.4" fill="#f1d492" stroke="#17110a" stroke-width="1.7" stroke-linejoin="round" stroke-linecap="round"/>
<path d="M1280 629.4L1328.4 638.8L1336 640.2L1336 661L1280.3 648.4Z" fill="url(#wTop)" stroke="#17110a" stroke-width="1.7" stroke-linejoin="round" stroke-linecap="round"/>
<path d="M1269.4 632L1280 629.4L1280.3 648.4L1270.3 651.6Z" fill="url(#wLight)" stroke="#17110a" stroke-width="1.7" stroke-linejoin="round" stroke-linecap="round"/></g>
<path d="M1355.6 669.4L1366.2 666.2L1420.2 678.4L1377.2 707L1376.9 717.5L1368.1 717.2L1368.6 698Z" fill="#e7bd6c" stroke="#17110a" stroke-width="1.7" stroke-linejoin="round" stroke-linecap="round"/>
<path d="M1368.1 717.2L1376.9 717.5" fill="none" stroke="#17110a" stroke-width="1.7" stroke-linejoin="round" stroke-linecap="round"/>
<path d="M1385 648.4L1411.6 640.6L1420.9 657.8L1419.4 656.9Z" fill="#e9c273" stroke="#17110a" stroke-width="1.7" stroke-linejoin="round" stroke-linecap="round"/>
<path d="M1365.9 646.9L1385 648.4L1419.4 656.9L1420.2 678.4L1366.2 666.2Z" fill="url(#wTop)" stroke="#17110a" stroke-width="1.7" stroke-linejoin="round" stroke-linecap="round"/>
<path d="M1355.3 650.3L1365.9 646.9L1366.2 666.2L1355.6 669.4Z" fill="url(#wLight)" stroke="#17110a" stroke-width="1.7" stroke-linejoin="round" stroke-linecap="round"/></g>
</svg>
</body>
</html>
